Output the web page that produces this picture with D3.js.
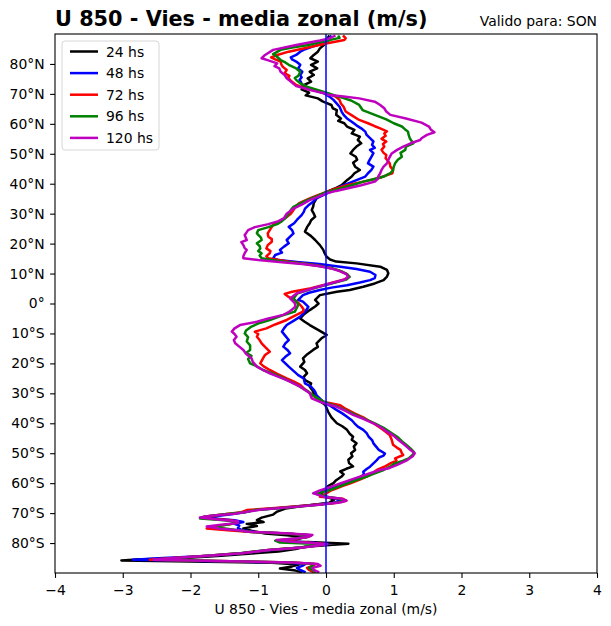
<!DOCTYPE html>
<html><head><meta charset="utf-8">
<script src="https://cdn.jsdelivr.net/npm/d3@7"></script>
<style>body{margin:0;background:#fff}svg{display:block}text{font-family:"DejaVu Sans",sans-serif}</style>
</head><body>
<script>
// ---- data: [latitude, zonal-mean U bias (m/s)] ----
const titleText = "U 850 - Vies - media zonal (m/s)";
const validText = "Valido para: SON";
const xTicks = [-4,-3,-2,-1,0,1,2,3,4];
const latTicks = [-80,-70,-60,-50,-40,-30,-20,-10,0,10,20,30,40,50,60,70,80];
const seriesNames = ["24 hs","48 hs","72 hs","96 hs","120 hs"];
const seriesColors = ["#000000","#0000ff","#ff0000","#008000","#bf00bf"];

const s24 = [[89.5,0.05],[88.5,0.02],[87.5,-0.02],[86.3,-0.03],[85.2,-0.09],[84.1,-0.12],[83.0,-0.18],[81.9,-0.23],[80.8,-0.12],[79.7,-0.22],[78.5,-0.13],[77.4,-0.24],[76.3,-0.18],[75.2,-0.27],[74.1,-0.22],[73.0,-0.32],[71.5,-0.36],[70.4,-0.25],[69.5,-0.30],[68.5,-0.12],[67.5,-0.05],[66.3,0.08],[65.2,0.10],[64.6,0.16],[63.0,0.15],[61.8,0.22],[61.0,0.18],[60.2,0.27],[59.1,0.31],[58.0,0.42],[56.8,0.38],[55.7,0.50],[54.6,0.47],[53.5,0.52],[52.4,0.45],[51.3,0.40],[50.1,0.36],[49.0,0.44],[48.0,0.46],[47.0,0.40],[45.7,0.43],[44.6,0.50],[43.5,0.42],[42.4,0.38],[41.2,0.31],[39.5,0.23],[38.4,0.13],[37.3,0.01],[36.2,-0.08],[35.1,-0.14],[33.5,-0.18],[32.3,-0.19],[31.2,-0.21],[30.0,-0.18],[29.0,-0.16],[27.8,-0.22],[26.8,-0.24],[25.5,-0.28],[24.0,-0.31],[22.5,-0.22],[21.2,-0.16],[19.5,-0.09],[17.9,-0.04],[16.8,-0.02],[15.6,0.01],[14.7,0.06],[14.0,0.15],[13.4,0.45],[12.3,0.80],[11.2,0.90],[10.1,0.92],[9.0,0.90],[7.8,0.85],[6.7,0.72],[5.6,0.55],[4.5,0.35],[3.9,0.16],[2.8,-0.09],[1.2,-0.16],[0.0,-0.11],[-1.0,-0.16],[-2.2,-0.24],[-3.5,-0.32],[-5.0,-0.38],[-6.0,-0.32],[-7.2,-0.24],[-8.9,-0.11],[-10.5,0.01],[-11.5,-0.06],[-13.3,-0.14],[-14.5,-0.12],[-15.5,-0.19],[-17.0,-0.28],[-18.3,-0.34],[-19.5,-0.32],[-21.1,-0.38],[-22.2,-0.31],[-23.3,-0.28],[-24.5,-0.33],[-25.6,-0.31],[-26.7,-0.22],[-27.8,-0.24],[-29.0,-0.20],[-30.0,-0.18],[-31.1,-0.15],[-32.2,-0.11],[-33.9,-0.01],[-35.0,0.01],[-36.1,0.03],[-38.0,0.08],[-40.0,0.16],[-41.0,0.24],[-42.2,0.31],[-43.5,0.35],[-44.5,0.40],[-45.5,0.38],[-46.7,0.45],[-47.8,0.41],[-48.9,0.43],[-50.0,0.37],[-51.0,0.39],[-52.2,0.33],[-53.3,0.34],[-54.4,0.40],[-55.2,0.30],[-56.1,0.21],[-57.0,0.26],[-57.8,0.23],[-59.0,0.15],[-60.0,0.11],[-61.0,0.03],[-61.7,0.01],[-62.5,-0.05],[-63.4,-0.08],[-64.5,0.0],[-65.5,0.12],[-66.5,0.05],[-67.5,-0.30],[-68.5,-0.60],[-69.5,-0.72],[-70.5,-0.78],[-71.5,-0.95],[-72.3,-1.02],[-73.0,-0.92],[-73.6,-1.17],[-74.3,-1.02],[-75.1,-1.22],[-76.0,-1.08],[-76.8,-0.90],[-77.4,-0.58],[-78.0,-0.30],[-78.8,-0.45],[-79.3,-0.60],[-79.8,-0.10],[-80.2,0.33],[-80.6,0.10],[-81.2,-0.30],[-82.0,-0.45],[-82.8,-0.70],[-83.5,-1.10],[-84.3,-1.60],[-85.0,-2.10],[-85.5,-2.80],[-85.8,-3.02],[-86.2,-2.0],[-86.6,-0.80],[-87.2,-0.40],[-87.8,-0.50],[-88.5,-0.68],[-89.2,-0.45],[-89.8,-0.35]];

const s48 = [[89.5,0.08],[88.5,0.05],[87.5,0.03],[86.5,-0.10],[85.8,-0.20],[84.7,-0.33],[84.1,-0.38],[83.0,-0.44],[82.2,-0.52],[81.5,-0.50],[80.8,-0.44],[79.7,-0.38],[78.5,-0.41],[77.4,-0.35],[76.3,-0.38],[75.5,-0.36],[74.7,-0.39],[73.9,-0.37],[73.0,-0.35],[71.9,-0.26],[71.1,-0.15],[70.2,-0.03],[69.1,0.05],[68.0,0.11],[67.0,0.15],[65.7,0.20],[64.1,0.23],[63.0,0.26],[61.8,0.31],[60.7,0.38],[59.5,0.45],[58.5,0.52],[57.4,0.58],[56.3,0.60],[55.2,0.65],[54.1,0.70],[53.0,0.68],[52.0,0.72],[51.3,0.65],[50.2,0.70],[49.0,0.67],[47.8,0.64],[46.8,0.62],[45.7,0.70],[44.6,0.67],[43.5,0.62],[42.4,0.58],[41.2,0.45],[40.3,0.35],[39.5,0.26],[37.8,0.11],[36.2,-0.04],[35.0,-0.15],[34.0,-0.19],[32.8,-0.26],[31.7,-0.31],[30.5,-0.33],[29.5,-0.36],[27.9,-0.43],[26.8,-0.47],[25.6,-0.55],[24.5,-0.50],[23.4,-0.48],[22.3,-0.53],[21.2,-0.58],[20.1,-0.55],[19.0,-0.62],[17.9,-0.68],[17.0,-0.65],[16.2,-0.75],[15.1,-0.78],[14.5,-0.70],[13.9,-0.43],[13.2,-0.10],[12.3,0.21],[11.5,0.45],[10.6,0.65],[9.5,0.73],[8.5,0.72],[7.8,0.65],[7.0,0.50],[6.1,0.31],[5.3,0.08],[4.5,-0.09],[3.6,-0.25],[2.8,-0.34],[1.2,-0.41],[0.6,-0.34],[-1.1,-0.26],[-2.5,-0.30],[-4.4,-0.38],[-5.8,-0.48],[-7.2,-0.58],[-8.3,-0.62],[-9.4,-0.65],[-10.8,-0.60],[-12.2,-0.55],[-13.3,-0.60],[-14.4,-0.63],[-15.5,-0.57],[-16.6,-0.53],[-17.8,-0.60],[-18.9,-0.65],[-20.0,-0.60],[-21.1,-0.55],[-22.5,-0.48],[-23.9,-0.41],[-25.0,-0.33],[-26.7,-0.31],[-27.8,-0.22],[-28.8,-0.18],[-29.5,-0.16],[-30.6,-0.14],[-31.5,-0.10],[-32.8,-0.04],[-34.0,0.05],[-35.6,0.16],[-36.7,0.24],[-37.8,0.31],[-39.0,0.38],[-40.0,0.42],[-41.1,0.47],[-42.2,0.55],[-43.3,0.60],[-44.5,0.63],[-45.6,0.68],[-46.7,0.70],[-47.8,0.74],[-48.9,0.78],[-50.1,0.87],[-50.8,0.85],[-51.5,0.78],[-52.3,0.75],[-53.4,0.70],[-54.5,0.65],[-55.3,0.60],[-56.2,0.55],[-57.0,0.56],[-57.8,0.52],[-58.9,0.40],[-59.5,0.36],[-60.3,0.25],[-61.2,0.16],[-62.3,0.0],[-63.4,-0.10],[-64.3,-0.05],[-65.2,0.15],[-65.9,0.22],[-66.6,0.10],[-67.4,-0.25],[-68.2,-0.65],[-69.0,-1.05],[-69.7,-1.20],[-70.4,-1.40],[-71.2,-1.70],[-71.8,-1.65],[-72.4,-1.35],[-73.0,-1.22],[-73.6,-1.35],[-74.2,-1.28],[-75.0,-1.30],[-75.7,-1.24],[-76.3,-1.05],[-76.8,-0.60],[-77.4,-0.25],[-78.0,-0.30],[-78.6,-0.45],[-79.2,-0.62],[-79.8,-0.25],[-80.3,0.03],[-80.8,-0.15],[-81.5,-0.35],[-82.3,-0.80],[-83.3,-1.20],[-84.2,-1.70],[-85.0,-2.40],[-85.6,-2.85],[-86.0,-1.80],[-86.5,-0.60],[-87.0,-0.30],[-87.6,-0.35],[-88.3,-0.43],[-89.0,-0.38],[-89.8,-0.30]];

const s72 = [[89.5,0.25],[88.6,0.29],[88.0,0.27],[86.8,0.0],[85.8,-0.20],[84.1,-0.55],[83.0,-0.72],[82.2,-0.81],[81.5,-0.75],[80.8,-0.67],[79.9,-0.66],[79.1,-0.64],[78.0,-0.58],[76.9,-0.61],[76.0,-0.54],[75.5,-0.56],[74.4,-0.52],[73.0,-0.44],[71.9,-0.32],[71.0,-0.15],[70.0,0.03],[69.1,0.14],[68.0,0.20],[66.8,0.22],[65.7,0.26],[64.1,0.29],[63.0,0.37],[61.3,0.49],[60.2,0.62],[59.2,0.72],[58.5,0.80],[57.5,0.90],[56.8,0.86],[56.0,0.88],[55.0,0.82],[54.1,0.89],[53.3,0.84],[52.4,0.86],[51.3,0.82],[50.3,0.85],[49.6,0.89],[48.5,0.88],[47.4,0.92],[46.8,0.94],[45.7,0.95],[44.6,0.99],[43.5,0.98],[42.9,0.90],[42.0,0.80],[41.2,0.65],[40.3,0.48],[39.5,0.31],[38.4,0.15],[37.3,0.01],[36.2,-0.12],[35.1,-0.24],[34.2,-0.33],[33.4,-0.40],[32.3,-0.45],[31.2,-0.48],[30.0,-0.52],[28.5,-0.60],[27.5,-0.68],[26.8,-0.76],[25.6,-0.80],[24.5,-0.83],[23.4,-0.86],[22.3,-0.85],[21.5,-0.80],[20.6,-0.80],[19.5,-0.86],[18.4,-0.88],[17.5,-0.82],[16.8,-0.83],[15.8,-0.88],[15.1,-0.85],[14.5,-0.70],[13.8,-0.50],[13.2,-0.28],[12.5,-0.08],[11.8,0.08],[10.8,0.22],[9.8,0.31],[8.9,0.33],[8.0,0.27],[6.7,0.05],[5.1,-0.22],[3.9,-0.50],[3.2,-0.61],[2.2,-0.55],[1.0,-0.45],[0.0,-0.40],[-1.0,-0.36],[-2.0,-0.33],[-2.7,-0.34],[-4.0,-0.45],[-5.5,-0.58],[-7.0,-0.75],[-8.3,-0.88],[-9.4,-1.05],[-10.2,-1.00],[-11.1,-1.02],[-12.2,-0.98],[-13.3,-0.95],[-14.5,-0.90],[-16.1,-0.83],[-17.2,-0.90],[-18.3,-0.93],[-20.0,-0.97],[-21.0,-0.92],[-22.2,-0.83],[-23.5,-0.72],[-25.0,-0.58],[-26.0,-0.48],[-27.2,-0.38],[-28.5,-0.32],[-29.5,-0.26],[-30.6,-0.20],[-31.8,-0.12],[-32.8,-0.04],[-34.0,0.21],[-35.3,0.30],[-36.7,0.42],[-38.0,0.55],[-39.0,0.62],[-40.0,0.70],[-41.5,0.80],[-42.8,0.88],[-43.9,0.94],[-45.5,0.97],[-47.2,0.99],[-48.2,1.05],[-48.9,1.10],[-50.0,1.12],[-50.6,1.14],[-51.7,1.02],[-52.5,1.04],[-53.4,0.95],[-54.3,0.88],[-55.6,0.75],[-56.8,0.68],[-57.8,0.60],[-58.8,0.50],[-60.1,0.35],[-60.9,0.25],[-61.7,0.16],[-62.6,0.06],[-63.4,0.01],[-64.5,-0.09],[-65.2,0.25],[-65.9,0.30],[-66.5,0.18],[-67.3,-0.20],[-68.2,-0.70],[-69.0,-1.17],[-69.7,-1.25],[-70.4,-1.50],[-71.2,-1.80],[-71.8,-1.75],[-72.4,-1.40],[-73.0,-1.30],[-73.6,-1.40],[-74.3,-1.60],[-75.1,-1.76],[-75.7,-1.45],[-76.3,-1.10],[-76.8,-0.60],[-77.4,-0.22],[-78.0,-0.28],[-78.6,-0.45],[-79.2,-0.68],[-79.8,-0.30],[-80.3,0.0],[-80.8,-0.15],[-81.5,-0.35],[-82.3,-0.85],[-83.3,-1.22],[-84.2,-1.75],[-85.0,-2.25],[-85.6,-2.60],[-86.0,-1.60],[-86.5,-0.50],[-87.0,-0.15],[-87.6,-0.20],[-88.3,-0.28],[-89.0,-0.25],[-89.8,-0.18]];

const s96 = [[89.5,0.18],[88.7,0.20],[88.2,0.10],[87.2,-0.10],[86.3,-0.26],[85.5,-0.50],[84.7,-0.67],[83.3,-0.78],[82.3,-0.72],[81.3,-0.67],[80.5,-0.60],[79.7,-0.55],[78.5,-0.44],[77.4,-0.38],[76.0,-0.41],[75.3,-0.46],[74.7,-0.44],[73.5,-0.38],[72.2,-0.26],[71.1,-0.09],[70.2,0.03],[69.4,0.14],[68.6,0.26],[67.8,0.37],[66.3,0.49],[64.6,0.54],[63.0,0.72],[61.5,0.89],[60.2,1.00],[59.1,1.12],[58.3,1.16],[57.4,1.21],[56.3,1.22],[55.0,1.24],[54.1,1.27],[53.5,1.29],[52.4,1.18],[51.3,1.17],[50.3,1.10],[49.0,1.12],[48.0,1.06],[46.8,1.02],[45.7,1.00],[44.6,0.99],[43.5,0.95],[42.4,0.85],[41.5,0.70],[40.7,0.55],[39.5,0.38],[38.4,0.21],[37.6,0.08],[36.8,-0.04],[35.6,-0.16],[34.5,-0.28],[33.4,-0.38],[32.3,-0.48],[31.2,-0.52],[30.0,-0.55],[28.5,-0.60],[27.5,-0.65],[26.5,-0.72],[25.5,-0.85],[24.5,-1.00],[23.5,-1.02],[22.9,-1.00],[22.0,-0.96],[21.2,-0.95],[20.1,-1.02],[19.2,-0.98],[18.4,-0.97],[17.5,-1.00],[16.8,-0.95],[16.0,-0.98],[15.1,-0.95],[14.5,-0.80],[13.8,-0.55],[13.2,-0.30],[12.5,-0.10],[11.8,0.08],[10.8,0.22],[9.8,0.31],[8.9,0.35],[8.0,0.30],[6.7,0.08],[5.1,-0.18],[3.4,-0.42],[1.7,-0.48],[0.1,-0.42],[-0.5,-0.41],[-2.7,-0.46],[-4.0,-0.65],[-5.5,-0.83],[-6.5,-0.98],[-7.7,-1.10],[-9.0,-1.18],[-10.0,-1.20],[-11.2,-1.15],[-12.7,-1.17],[-14.0,-1.12],[-15.5,-1.12],[-16.5,-1.18],[-17.5,-1.10],[-18.5,-1.15],[-20.0,-1.12],[-21.0,-1.02],[-22.2,-0.93],[-23.3,-0.80],[-24.4,-0.68],[-25.8,-0.55],[-27.2,-0.43],[-28.5,-0.33],[-29.5,-0.26],[-31.0,-0.17],[-32.5,-0.06],[-33.5,0.05],[-34.5,0.18],[-35.8,0.30],[-37.0,0.42],[-38.5,0.57],[-40.0,0.72],[-41.5,0.85],[-43.0,0.95],[-44.5,1.05],[-46.0,1.12],[-47.5,1.20],[-48.5,1.25],[-49.6,1.30],[-50.5,1.28],[-51.7,1.22],[-52.5,1.14],[-53.4,1.02],[-54.3,0.96],[-55.6,0.85],[-56.7,0.72],[-57.8,0.60],[-59.0,0.45],[-60.1,0.31],[-61.2,0.18],[-62.3,0.06],[-63.0,-0.05],[-63.6,-0.14],[-64.5,0.01],[-65.3,0.22],[-65.9,0.27],[-66.5,0.15],[-67.3,-0.15],[-68.2,-0.60],[-69.0,-1.05],[-69.7,-1.20],[-70.4,-1.50],[-71.2,-1.80],[-71.8,-1.86],[-72.4,-1.50],[-73.0,-1.30],[-73.6,-1.40],[-74.3,-1.60],[-75.0,-1.55],[-75.7,-1.30],[-76.3,-1.10],[-76.8,-0.60],[-77.4,-0.22],[-78.0,-0.28],[-78.6,-0.50],[-79.2,-0.75],[-79.8,-0.68],[-80.3,-0.10],[-80.8,-0.20],[-81.5,-0.38],[-82.3,-0.85],[-83.3,-1.25],[-84.2,-1.75],[-85.0,-2.20],[-85.6,-2.50],[-86.0,-1.60],[-86.5,-0.50],[-87.0,-0.18],[-87.6,-0.20],[-88.3,-0.25],[-89.0,-0.20],[-89.8,-0.15]];

const s120 = [[89.5,0.14],[88.5,0.05],[87.8,-0.09],[86.3,-0.44],[84.7,-0.78],[83.0,-0.90],[81.9,-0.95],[81.1,-0.84],[80.2,-0.72],[79.3,-0.76],[78.5,-0.69],[77.4,-0.67],[76.3,-0.61],[75.2,-0.58],[74.1,-0.52],[72.6,-0.44],[71.9,-0.32],[71.1,-0.20],[70.2,-0.03],[69.6,0.05],[69.1,0.26],[68.5,0.49],[67.4,0.72],[66.3,0.80],[65.2,0.86],[64.1,0.89],[63.0,0.95],[61.8,1.18],[60.4,1.41],[59.1,1.52],[58.0,1.55],[57.2,1.60],[56.3,1.49],[55.2,1.41],[54.6,1.39],[53.5,1.25],[52.4,1.14],[51.3,1.05],[50.1,0.97],[48.5,0.93],[46.8,0.90],[45.7,0.85],[44.6,0.82],[43.5,0.80],[42.4,0.77],[41.5,0.76],[40.7,0.72],[39.5,0.52],[38.4,0.31],[37.6,0.15],[36.8,0.01],[35.6,-0.12],[34.5,-0.24],[33.0,-0.36],[31.7,-0.48],[30.0,-0.58],[28.5,-0.62],[27.5,-0.70],[26.5,-0.85],[25.5,-1.05],[24.5,-1.15],[23.5,-1.18],[22.9,-1.20],[21.2,-1.17],[20.5,-1.25],[19.5,-1.22],[18.5,-1.20],[17.9,-1.17],[16.8,-1.20],[15.8,-1.22],[15.1,-1.22],[14.5,-1.00],[13.8,-0.65],[13.2,-0.35],[12.5,-0.12],[11.8,0.06],[10.8,0.20],[9.8,0.30],[8.9,0.33],[8.0,0.28],[6.7,0.06],[5.1,-0.19],[3.4,-0.43],[1.7,-0.53],[0.1,-0.46],[-1.0,-0.45],[-2.2,-0.51],[-3.0,-0.56],[-3.8,-0.63],[-5.0,-0.85],[-6.1,-1.02],[-7.2,-1.27],[-8.3,-1.35],[-9.4,-1.39],[-10.2,-1.35],[-11.1,-1.32],[-12.2,-1.36],[-13.3,-1.34],[-14.4,-1.28],[-15.5,-1.22],[-16.8,-1.18],[-18.3,-1.10],[-19.5,-1.08],[-21.1,-1.02],[-22.2,-0.93],[-23.3,-0.83],[-24.5,-0.70],[-25.6,-0.58],[-26.7,-0.48],[-27.8,-0.38],[-29.0,-0.30],[-30.0,-0.24],[-31.7,-0.21],[-32.8,-0.09],[-33.5,0.0],[-34.5,0.16],[-35.8,0.28],[-37.2,0.40],[-38.5,0.55],[-40.0,0.70],[-41.5,0.82],[-42.8,0.90],[-44.2,1.00],[-45.6,1.07],[-47.0,1.15],[-48.4,1.22],[-50.0,1.31],[-51.0,1.28],[-52.3,1.20],[-53.9,1.05],[-55.0,0.93],[-55.6,0.80],[-56.7,0.65],[-57.8,0.50],[-59.0,0.35],[-60.1,0.21],[-61.0,0.10],[-61.7,0.01],[-62.5,-0.10],[-63.4,-0.19],[-64.0,-0.10],[-64.5,-0.04],[-65.1,0.21],[-65.8,0.30],[-66.4,0.22],[-67.2,-0.10],[-68.0,-0.50],[-68.8,-0.95],[-69.5,-1.15],[-70.2,-1.35],[-70.9,-1.70],[-71.5,-1.86],[-72.1,-1.60],[-72.7,-1.30],[-73.3,-1.30],[-73.9,-1.55],[-74.5,-1.76],[-75.1,-1.60],[-75.7,-1.30],[-76.2,-1.15],[-76.7,-0.60],[-77.3,-0.20],[-77.9,-0.25],[-78.5,-0.45],[-79.0,-0.73],[-79.5,-0.55],[-80.0,-0.20],[-80.4,0.02],[-80.9,-0.15],[-81.5,-0.35],[-82.3,-0.85],[-83.4,-1.25],[-84.3,-1.80],[-85.0,-2.25],[-85.6,-2.55],[-86.0,-1.60],[-86.5,-0.50],[-87.0,-0.12],[-87.6,-0.08],[-88.3,-0.20],[-89.0,-0.18],[-89.8,-0.10]];

const allSeries = [s24, s48, s72, s96, s120];

// ---- drawing ----
const W = 611, H = 626;
const m = {left:55, right:597, top:34, bottom:573};
const svg = d3.select("body").append("svg").attr("width", W).attr("height", H);
const x = d3.scaleLinear().domain([-4,4]).range([m.left, m.right]);
const y = d3.scaleLinear().domain([-90,90]).range([m.bottom, m.top]);

svg.append("defs").append("clipPath").attr("id","clip")
  .append("rect").attr("x",m.left).attr("y",m.top).attr("width",m.right-m.left).attr("height",m.bottom-m.top);

const line = d3.line().x(d => x(d[1])).y(d => y(d[0]));
const g = svg.append("g").attr("clip-path","url(#clip)");
allSeries.forEach((s,i) => {
  g.append("path").datum(s).attr("d", line).attr("fill","none")
    .attr("stroke", seriesColors[i]).attr("stroke-width",2.5)
    .attr("stroke-linejoin","round").attr("stroke-linecap","butt");
});
// zero line
g.append("line").attr("x1",x(0)).attr("x2",x(0)).attr("y1",y(-90)).attr("y2",y(90))
  .attr("stroke","#0000ff").attr("stroke-width",1.5);

// axes
const fmtX = v => v < 0 ? "\u2212" + Math.abs(v) : String(v);
const fmtLat = v => v === 0 ? "0°" : (v > 0 ? v + "°N" : (-v) + "°S");
const ax = svg.append("g").attr("transform",`translate(0,${m.bottom})`)
  .call(d3.axisBottom(x).tickValues(xTicks).tickFormat(fmtX).tickSize(4.9).tickPadding(7).tickSizeOuter(0));
const ay = svg.append("g").attr("transform",`translate(${m.left},0)`)
  .call(d3.axisLeft(y).tickValues(latTicks).tickFormat(fmtLat).tickSize(4.9).tickPadding(5.5).tickSizeOuter(0));
[ax, ay].forEach(a => {
  a.select(".domain").remove();
  a.selectAll("line").attr("stroke","#000").attr("stroke-width",1.1);
  a.selectAll("text").attr("font-size",13.9).attr("font-family","DejaVu Sans").attr("fill","#000");
});
svg.append("rect").attr("x",m.left).attr("y",m.top).attr("width",m.right-m.left).attr("height",m.bottom-m.top)
  .attr("fill","none").attr("stroke","#000").attr("stroke-width",1.1);

// titles
svg.append("text").attr("x",m.left).attr("y",26).attr("font-size",20.8).attr("font-weight","bold")
  .attr("fill","#000").text(titleText);
svg.append("text").attr("x",m.right).attr("y",26).attr("text-anchor","end").attr("font-size",13.9)
  .attr("fill","#000").text(validText);
svg.append("text").attr("x",(m.left+m.right)/2).attr("y",614).attr("text-anchor","middle").attr("font-size",13.9)
  .attr("fill","#000").text(titleText);

// legend
const lg = svg.append("g");
lg.append("rect").attr("x",62).attr("y",41).attr("width",97).attr("height",109).attr("rx",3)
  .attr("fill","#fff").attr("fill-opacity",0.8).attr("stroke","#d6d6d6").attr("stroke-width",1);
seriesNames.forEach((n,i) => {
  const yy = 51.5 + i*21.6;
  lg.append("line").attr("x1",70).attr("x2",98).attr("y1",yy).attr("y2",yy)
    .attr("stroke",seriesColors[i]).attr("stroke-width",2.5);
  lg.append("text").attr("x",106).attr("y",yy).attr("dy","0.36em").attr("font-size",13.9)
    .attr("fill","#000").text(n);
});
</script>
</body></html>
